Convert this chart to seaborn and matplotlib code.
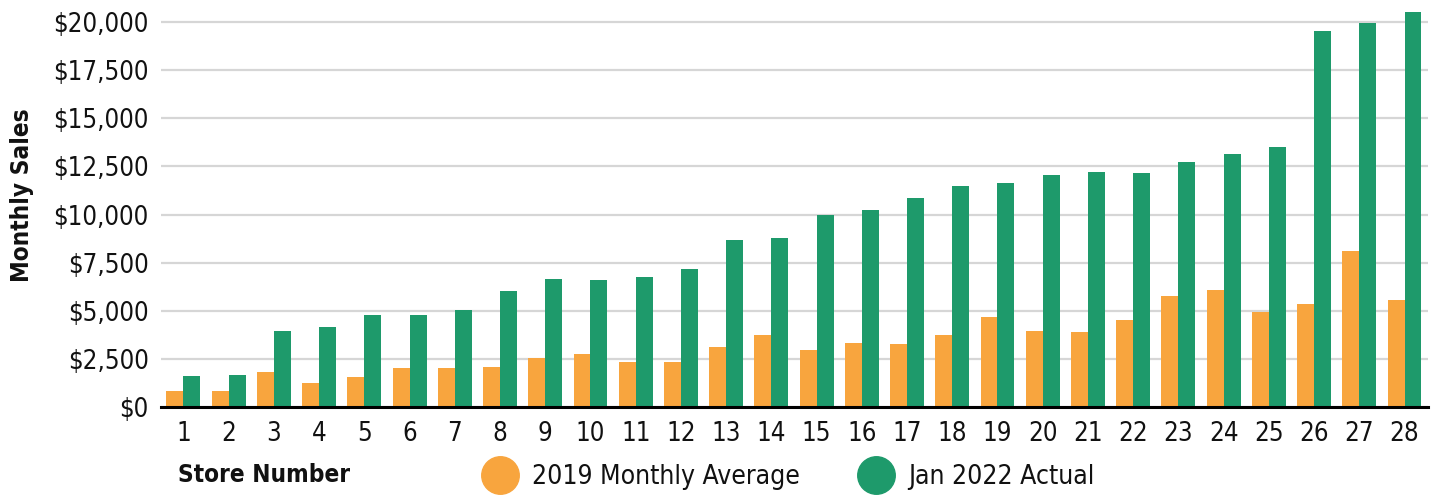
import matplotlib
matplotlib.use("Agg")
import matplotlib.pyplot as plt
import seaborn as sns
import pandas as pd
from matplotlib.lines import Line2D
from matplotlib.ticker import FuncFormatter

stores = [str(i) for i in range(1, 29)]
avg_2019 = [830, 830, 1820, 1250, 1560, 2030, 2030, 2080, 2550, 2750, 2340, 2340,
            3120, 3740, 2960, 3320, 3270, 3740, 4680, 3950, 3900, 4520, 5770, 6080,
            4940, 5350, 8100, 5560]
jan_2022 = [1610, 1660, 3950, 4160, 4780, 4780, 5040, 6030, 6650, 6600, 6750, 7170,
            8680, 8780, 9970, 10230, 10860, 11480, 11640, 12050, 12210, 12160, 12730,
            13140, 13510, 19530, 19950, 20520]
series_names = ["2019 Monthly Average", "Jan 2022 Actual"]
colors = ["#F8A53E", "#1E9A6B"]

df = pd.DataFrame({
    "Store": stores * 2,
    "Sales": avg_2019 + jan_2022,
    "Series": [series_names[0]] * len(stores) + [series_names[1]] * len(stores),
})

sns.set_theme(style="white")
plt.rcParams["font.family"] = ["DejaVu Sans"]
plt.rcParams["font.stretch"] = "condensed"
plt.rcParams["text.color"] = "#111111"
plt.rcParams["axes.labelcolor"] = "#111111"

fig = plt.figure(figsize=(14.4, 4.97), dpi=100)
ax = fig.add_axes([0.112, 0.181, 0.880, 0.798])

sns.barplot(data=df, x="Store", y="Sales", hue="Series", palette=colors,
            width=0.75, saturation=1, ax=ax, legend=False, zorder=3, linewidth=0)

ax.set_ylim(0, 20600)
ax.set_xlim(-0.49, 27.53)
ax.set_yticks([0, 2500, 5000, 7500, 10000, 12500, 15000, 17500, 20000])
ax.yaxis.set_major_formatter(FuncFormatter(lambda v, p: f"${v:,.0f}"))
ax.grid(axis="y", color="#d6d6d6", linewidth=1.6, zorder=0)
ax.grid(axis="x", visible=False)
ax.set_axisbelow(True)
for s in ["top", "right", "left"]:
    ax.spines[s].set_visible(False)
ax.spines["bottom"].set_color("black")
ax.spines["bottom"].set_linewidth(2.2)
ax.spines["bottom"].set_zorder(5)

ax.tick_params(axis="both", length=0, labelsize=18.5, colors="#111111")
ax.tick_params(axis="y", pad=9)
ax.tick_params(axis="x", pad=10)

ax.set_xlabel("Store Number", fontsize=17.5, fontweight="bold", ha="left", va="center")
ax.xaxis.set_label_coords(0.0134, -0.171)
ax.set_ylabel("Monthly Sales", fontsize=17.5, fontweight="bold", va="center")
ax.yaxis.set_label_coords(-0.11, 0.535)

handles = [Line2D([0], [0], marker="o", linestyle="none", markersize=27,
                  markerfacecolor=c, markeredgecolor=c) for c in colors]
fig.legend(handles, series_names, loc="center", bbox_to_anchor=(0.548, 0.04),
           ncol=2, frameon=False, fontsize=19, handletextpad=0.6, columnspacing=2.3,
           handlelength=1.2)

fig.savefig("out.png", dpi=100)
